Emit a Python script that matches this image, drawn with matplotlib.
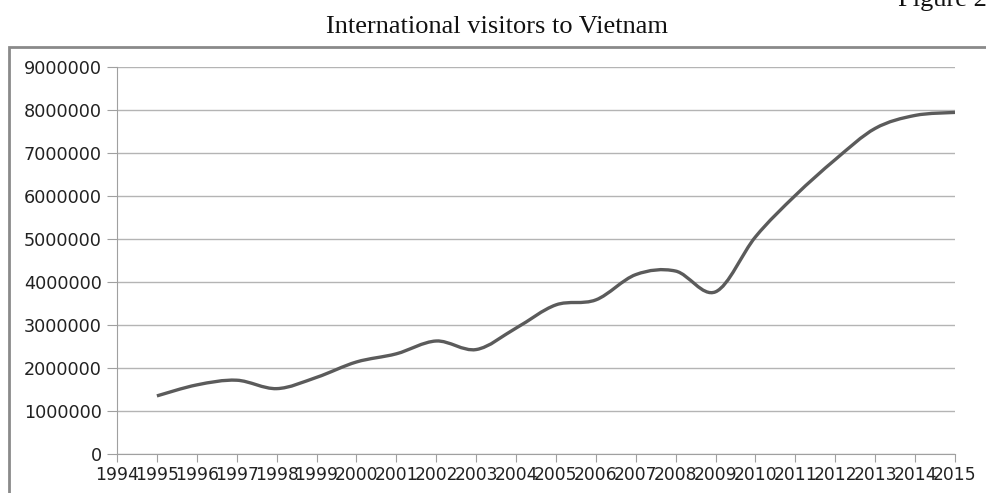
import numpy as np
import matplotlib
matplotlib.use("Agg")
import matplotlib.pyplot as plt
from matplotlib.path import Path
from matplotlib.patches import PathPatch, Rectangle

# yearly international arrivals
years = list(range(1994, 2016))
data_years = list(range(1995, 2016))
visitors = [1351000, 1607000, 1716000, 1520000, 1782000, 2140000, 2330000,
            2628000, 2429000, 2928000, 3468000, 3584000, 4172000, 4254000,
            3772000, 5050000, 6014000, 6848000, 7572000, 7874000, 7944000]
yticks = list(range(0, 9000001, 1000000))

fig = plt.figure(figsize=(9.87, 4.93), dpi=100)
ax = fig.add_axes([117 / 987, 1 - 454 / 493, 838 / 987, 387 / 493])

# smoothed line: cubic bezier through each point (catmull-rom style)
x = np.array([years.index(y) for y in data_years], dtype=float)
y = np.array(visitors, dtype=float)
verts = [(x[0], y[0])]
codes = [Path.MOVETO]
n = len(x)
for i in range(n - 1):
    p0 = i - 1 if i > 0 else i
    p3 = i + 2 if i + 2 < n else i + 1
    c1 = (x[i] + (x[i + 1] - x[p0]) / 6, y[i] + (y[i + 1] - y[p0]) / 6)
    c2 = (x[i + 1] - (x[p3] - x[i]) / 6, y[i + 1] - (y[p3] - y[i]) / 6)
    verts += [c1, c2, (x[i + 1], y[i + 1])]
    codes += [Path.CURVE4] * 3
ax.add_patch(PathPatch(Path(verts, codes), fill=False, edgecolor="#5b5b5b",
                       lw=2.4, capstyle="butt", zorder=3))

ax.set_xlim(0, len(years) - 1)
ax.set_ylim(0, 9000000)
ax.set_yticks(yticks)
ax.set_yticklabels([str(v) for v in yticks])
ax.set_xticks(range(len(years)))
ax.set_xticklabels([str(v) for v in years])
ax.grid(axis="y", color="#b4b4b4", lw=1)
ax.set_axisbelow(True)
for s in ["top", "right"]:
    ax.spines[s].set_visible(False)
ax.spines["left"].set_color("#a0a0a0")
ax.spines["bottom"].set_color("#a0a0a0")
ax.tick_params(axis="y", length=7, color="#a0a0a0", pad=4, labelsize=12.7, labelcolor="#222222")
ax.tick_params(axis="x", length=6, color="#a0a0a0", pad=3, labelsize=12.3, labelcolor="#222222")

fig.add_artist(Rectangle((9 / 987, -0.1), 2.0, 1 - 47 / 493 + 0.1,
                         transform=fig.transFigure, fill=False,
                         edgecolor="#8a8a8a", lw=2))

fig.text(497 / 987, 1 - 33 / 493, "International visitors to Vietnam", ha="center", va="baseline",
         family="Liberation Serif", fontsize=19, color="#111111")
fig.text(898 / 987, 1 - 6 / 493, "Figure 2", ha="left", va="baseline",
         family="Liberation Serif", fontsize=19, color="#111111")

fig.savefig("out.png", dpi=100)
